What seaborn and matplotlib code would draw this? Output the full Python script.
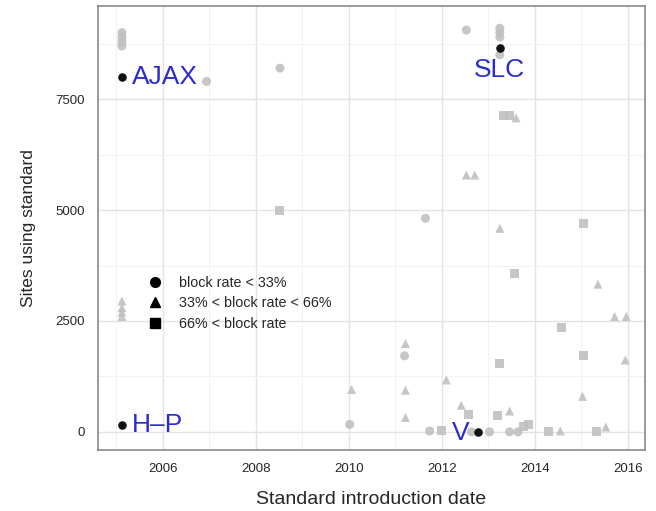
import pandas as pd
import matplotlib.pyplot as plt
import seaborn as sns
from matplotlib.lines import Line2D
from matplotlib.ticker import MultipleLocator

# 데이터: block rate 구간별 (도입 연도, 사이트 수)
low_x = [2005.12, 2005.12, 2005.12, 2005.12, 2006.94, 2008.52, 2012.53, 2013.25,
         2013.25, 2013.25, 2013.25, 2011.65, 2011.20, 2010.02, 2011.74, 2012.64,
         2013.03, 2013.46, 2013.64]
low_y = [9000, 8900, 8800, 8700, 7900, 8200, 9060, 9100,
         9000, 8900, 8500, 4815, 1715, 167, 20, 0,
         0, 0, 0]

mid_x = [2005.12, 2005.12, 2005.12, 2005.12, 2012.53, 2012.71, 2013.60, 2013.25,
         2015.36, 2015.72, 2015.97, 2011.22, 2015.95, 2012.10, 2011.22, 2015.03,
         2011.22, 2010.06, 2012.42, 2013.46, 2014.55, 2015.53]
mid_y = [2950, 2800, 2700, 2600, 5790, 5790, 7080, 4590,
         3330, 2600, 2600, 1990, 1620, 1170, 940, 800,
         325, 956, 600, 470, 22, 110]

high_x = [2008.52, 2013.33, 2013.45, 2015.04, 2013.57, 2014.57, 2015.04, 2013.25,
          2012.57, 2013.21, 2013.75, 2013.86, 2014.30, 2015.33, 2011.99]
high_y = [5000, 7140, 7130, 4700, 3560, 2356, 1716, 1543,
          400, 370, 110, 170, 0, 0, 40]

# 강조 표준 (block rate < 33%)
named = ["AJAX", "H\u2013P", "SLC", "V"]
named_x = [2005.12, 2005.12, 2013.25, 2012.78]
named_y = [8000, 150, 8650, 0]

classes = ["block rate < 33%", "33% < block rate < 66%", "66% < block rate"]
marker_map = dict(zip(classes, ["o", "^", "s"]))

df = pd.concat([
    pd.DataFrame({"date": low_x, "sites": low_y, "rate": classes[0]}),
    pd.DataFrame({"date": mid_x, "sites": mid_y, "rate": classes[1]}),
    pd.DataFrame({"date": high_x, "sites": high_y, "rate": classes[2]}),
])
df_named = pd.DataFrame({"date": named_x, "sites": named_y, "name": named})

sns.set_style("white")
plt.rcParams["font.family"] = ["Liberation Sans", "DejaVu Sans"]

fig = plt.figure(figsize=(6.56, 5.11), dpi=100)
ax = fig.add_axes([0.149, 0.119, 0.834, 0.869])

sns.scatterplot(data=df, x="date", y="sites", style="rate", markers=marker_map,
                color="#c0c0c0", s=42, linewidth=0, alpha=0.9, legend=False, ax=ax)
sns.scatterplot(data=df_named, x="date", y="sites", color="#111111", s=38,
                linewidth=0, legend=False, ax=ax, zorder=4)

# 라벨
label_style = dict(color="#2b2bd0", fontsize=19, textcoords="offset points", zorder=5)
offsets = {"AJAX": ((7, 0), "left", "center"),
           "H\u2013P": ((7, 0), "left", "center"),
           "SLC": ((0, -7), "center", "top"),
           "V": ((-6, -1), "right", "center")}
for _, row in df_named.iterrows():
    off, ha, va = offsets[row["name"]]
    ax.annotate(row["name"], (row["date"], row["sites"]), xytext=off,
                ha=ha, va=va, **label_style)

ax.set_xlim(2004.6, 2016.37)
ax.set_ylim(-413, 9598)
ax.set_xticks([2006, 2008, 2010, 2012, 2014, 2016])
ax.set_yticks([0, 2500, 5000, 7500])
ax.xaxis.set_minor_locator(MultipleLocator(1))
ax.yaxis.set_minor_locator(MultipleLocator(1250))
ax.grid(which="major", color="#e3e3e3", linewidth=1)
ax.grid(which="minor", color="#f2f2f2", linewidth=0.7)
ax.set_axisbelow(True)
ax.tick_params(which="major", direction="in", length=6, width=1.5, color="#222222",
               labelsize=9.5, pad=9)
ax.tick_params(which="minor", length=0)
for sp in ax.spines.values():
    sp.set_color("#8a8a8a")
    sp.set_linewidth(1.2)

ax.set_xlabel("Standard introduction date", fontsize=14, labelpad=12)
ax.set_ylabel("Sites using standard", fontsize=12.5, labelpad=14)

handles = [Line2D([], [], marker=marker_map[c], color="black", linestyle="",
                  markersize=7) for c in classes]
ax.legend(handles, classes, loc="upper left", bbox_to_anchor=(0.091, 0.393),
          frameon=False, fontsize=10.3, handlelength=1, handletextpad=1.2,
          labelspacing=0.45, borderpad=0, borderaxespad=0)

plt.savefig("out.png", dpi=100)
